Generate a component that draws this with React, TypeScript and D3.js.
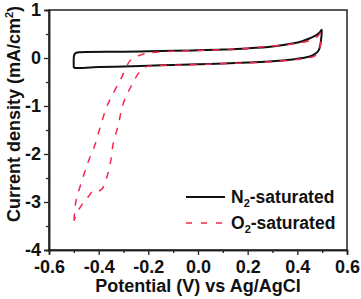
import { useEffect, useRef } from 'react';
import * as d3 from 'd3';

// axis ticks
const xTicks = [-0.6, -0.4, -0.2, 0, 0.2, 0.4, 0.6];
const xMinorTicks = [-0.5, -0.3, -0.1, 0.1, 0.3, 0.5];
const yTicks = [1, 0, -1, -2, -3, -4];
const yMinorTicks = [0.5, -0.5, -1.5, -2.5, -3.5];

// N2-saturated CV loop (V, mA/cm2)
const n2Potential = [
  -0.5, -0.5, -0.497, -0.49, -0.475, -0.45, -0.3, -0.2, -0.1, 0.0, 0.1, 0.2, 0.3, 0.38, 0.42, 0.45, 0.475, 0.49, 0.498,
  0.496, 0.492, 0.485, 0.47, 0.45, 0.42, 0.38, 0.3, 0.2, 0.1, 0.0, -0.1, -0.2, -0.3, -0.4, -0.49, -0.5,
];
const n2Current = [
  -0.21, 0.02, 0.08, 0.11, 0.12, 0.125, 0.13, 0.14, 0.15, 0.16, 0.175, 0.2, 0.24, 0.3, 0.35, 0.41, 0.47, 0.53, 0.59,
  0.4, 0.26, 0.15, 0.08, 0.03, 0.0, -0.03, -0.07, -0.095, -0.115, -0.13, -0.145, -0.16, -0.175, -0.19, -0.21, -0.21,
];

// O2-saturated CV loop (V, mA/cm2)
const o2Potential = [
  -0.499, -0.497, -0.492, -0.485, -0.462, -0.442, -0.415, -0.395, -0.37, -0.35, -0.31, -0.274, -0.25, -0.227, -0.193,
  -0.1, 0.0, 0.1, 0.2, 0.3, 0.38, 0.44, 0.475, 0.495,
  0.494, 0.488, 0.478, 0.46, 0.43, 0.38, 0.3, 0.2, 0.1, 0.0, -0.1, -0.18, -0.213,
  -0.24, -0.265, -0.287, -0.305, -0.321, -0.341, -0.352, -0.368, -0.385, -0.395, -0.41, -0.422, -0.44, -0.455, -0.468,
  -0.485, -0.499,
];
const o2Current = [
  -3.39, -3.2, -3.0, -2.85, -2.47, -2.16, -1.81, -1.46, -1.05, -0.82, -0.43, -0.06, 0.03, 0.07, 0.11,
  0.14, 0.155, 0.175, 0.205, 0.25, 0.29, 0.35, 0.42, 0.52,
  0.3, 0.16, 0.07, 0.02, -0.01, -0.04, -0.075, -0.1, -0.12, -0.135, -0.15, -0.165, -0.19,
  -0.32, -0.55, -0.77, -1.01, -1.4, -1.77, -2.16, -2.5, -2.72, -2.76, -2.78, -2.76, -2.88, -2.96, -3.06,
  -3.2, -3.39,
];

const RED = '#f7264f';
const FONT = '"Liberation Sans", Arial, sans-serif';

export default function App() {
  const svgRef = useRef<SVGSVGElement>(null);

  useEffect(() => {
    if (!svgRef.current) return;
    d3.select(svgRef.current).selectAll('*').remove();

    const svg = d3.select(svgRef.current);
    const width = 361;
    const height = 299;
    const margin = { top: 10, right: 14, bottom: 49, left: 49 };
    const w = width - margin.left - margin.right;
    const h = height - margin.top - margin.bottom;

    svg.attr('width', width).attr('height', height);
    const g = svg.append('g').attr('transform', `translate(${margin.left},${margin.top})`);

    const x = d3.scaleLinear().domain([-0.6, 0.6]).range([0, w]);
    const y = d3.scaleLinear().domain([-4, 1]).range([h, 0]);

    // frame
    g.append('rect')
      .attr('width', w)
      .attr('height', h)
      .attr('fill', 'none')
      .attr('stroke', '#222')
      .attr('stroke-width', 1.5);

    const line = d3
      .line<[number, number]>()
      .x(d => x(d[0]))
      .y(d => y(d[1]))
      .curve(d3.curveCatmullRom.alpha(0.5));

    const n2 = n2Potential.map((p, i) => [p, n2Current[i]] as [number, number]);
    const o2 = o2Potential.map((p, i) => [p, o2Current[i]] as [number, number]);

    g.append('path')
      .attr('d', line(n2))
      .attr('fill', 'none')
      .attr('stroke', '#111')
      .attr('stroke-width', 2);

    g.append('path')
      .attr('d', line(o2))
      .attr('fill', 'none')
      .attr('stroke', RED)
      .attr('stroke-width', 1.5)
      .attr('stroke-dasharray', '7,8');

    // axes
    const xAxis = g
      .append('g')
      .attr('transform', `translate(0,${h})`)
      .call(
        d3
          .axisBottom(x)
          .tickValues(xTicks)
          .tickSize(5)
          .tickPadding(5)
          .tickFormat(d => (+d).toFixed(1))
      );
    g.append('g')
      .attr('transform', `translate(0,${h})`)
      .call(d3.axisBottom(x).tickValues(xMinorTicks).tickSize(3).tickFormat(() => ''));

    const yAxis = g
      .append('g')
      .call(d3.axisLeft(y).tickValues(yTicks).tickSize(5).tickPadding(3).tickFormat(d => String(d)));
    g.append('g').call(d3.axisLeft(y).tickValues(yMinorTicks).tickSize(3).tickFormat(() => ''));

    g.selectAll('.domain').attr('stroke', '#222').attr('stroke-width', 1.5);
    g.selectAll('.tick line').attr('stroke', '#222').attr('stroke-width', 1.3);
    [xAxis, yAxis].forEach(a =>
      a
        .selectAll('text')
        .attr('fill', '#111')
        .attr('font-family', FONT)
        .attr('font-size', '18px')
        .attr('font-weight', 'bold')
    );

    // axis titles
    svg.append('text')
      .attr('x', margin.left + w / 2)
      .attr('y', 292)
      .attr('text-anchor', 'middle')
      .attr('font-family', FONT)
      .attr('font-size', '18px')
      .attr('font-weight', 'bold')
      .attr('fill', '#111')
      .text('Potential (V) vs Ag/AgCl');

    const yTitle = svg.append('text')
      .attr('transform', 'translate(20,114) rotate(-90)')
      .attr('text-anchor', 'middle')
      .attr('font-family', FONT)
      .attr('font-size', '18px')
      .attr('font-weight', 'bold')
      .attr('fill', '#111');
    yTitle.append('tspan').text('Current density (mA/cm');
    yTitle.append('tspan').attr('font-size', '11px').attr('dy', -7).text('2');
    yTitle.append('tspan').attr('dy', 7).text(')');

    // legend
    const legend = [
      { label: 'N', sub: '2', rest: '-saturated', color: '#111', dash: null, width: 2, y: 197 },
      { label: 'O', sub: '2', rest: '-saturated', color: RED, dash: '6,9', width: 1.5, y: 223 },
    ];
    legend.forEach(item => {
      svg.append('line')
        .attr('x1', 186)
        .attr('x2', 225)
        .attr('y1', item.y)
        .attr('y2', item.y)
        .attr('stroke', item.color)
        .attr('stroke-width', item.width)
        .attr('stroke-dasharray', item.dash);
      const t = svg.append('text')
        .attr('x', 231)
        .attr('y', item.y + 6)
        .attr('font-family', FONT)
        .attr('font-size', '17.5px')
        .attr('font-weight', 'bold')
        .attr('fill', '#111');
      t.append('tspan').text(item.label);
      t.append('tspan').attr('font-size', '11px').attr('dy', 4).text(item.sub);
      t.append('tspan').attr('dy', -4).text(item.rest);
    });
  }, []);

  return (
    <svg ref={svgRef} style={{ position: 'absolute', left: 0, top: 0, background: 'white' }}></svg>
  );
}
